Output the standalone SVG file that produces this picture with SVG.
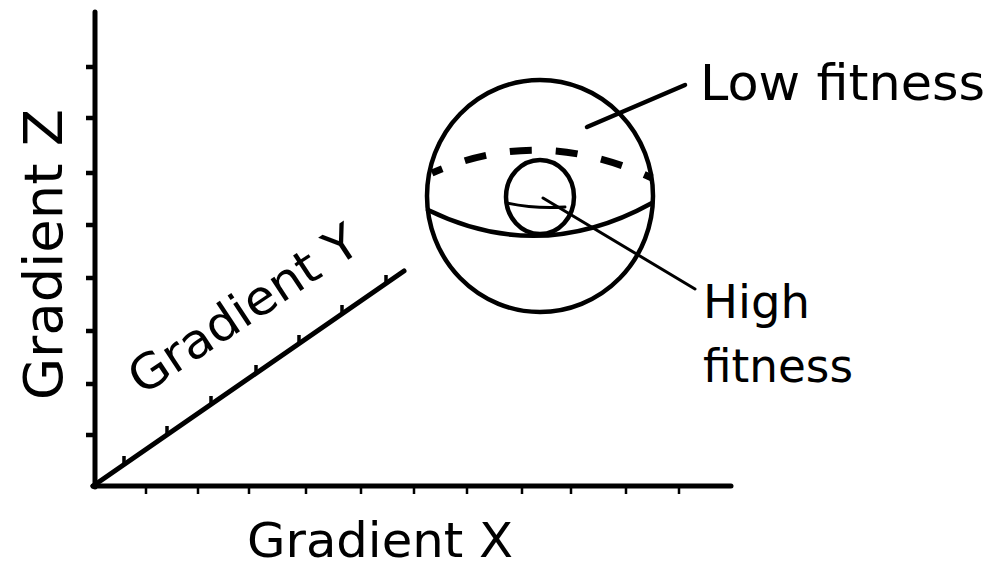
<svg xmlns="http://www.w3.org/2000/svg" width="990" height="567" viewBox="0 0 990 567">
<style>
.ax{stroke:#000;stroke-width:5;fill:none;stroke-linecap:round}
.tk{stroke:#000;stroke-width:4.5;fill:none}
.tkx{stroke:#000;stroke-width:2.5;fill:none}
.tky{stroke:#000;stroke-width:3.5;fill:none}
.ln{stroke:#000;stroke-width:4.5;fill:none;stroke-linecap:round}
.thin{stroke:#000;stroke-width:3;fill:none;stroke-linecap:round}
.dash{stroke:#000;stroke-width:7;fill:none;stroke-dasharray:22 24;stroke-dashoffset:11}
.lbl{font-family:"DejaVu Sans","Liberation Sans",sans-serif;fill:#000}
</style>
<rect width="990" height="567" fill="#fff"/>
<g id="axes">
  <line class="ax" x1="95" y1="12" x2="95" y2="487"/>
  <line class="ax" x1="93" y1="486" x2="731" y2="486"/>
  <line class="ax" x1="93" y1="486" x2="404" y2="271"/>
  <path class="tk" d="M86 67H95M86 118H95M86 173H95M86 225H95M86 278H95M86 331H95M86 384H95M86 435H95"/>
  <path class="tkx" d="M146 486V494M198 486V494M249 486V494M306 486V494M361 486V494M414 486V494M467 486V494M522 486V494M571 486V494M626 486V494M679 486V494"/>
  <path class="tky" d="M124 464.6V456M167 434.8V426M211 404.4V396M256 373.3V365M299 343.6V335M342 313.9V305M386 283.4V275"/>
</g>
<g id="sphere">
  <ellipse class="ln" cx="540" cy="196" rx="113" ry="116"/>
  <path class="dash" d="M432 173Q540 125 652 178"/>
  <path class="ln" d="M428 210Q540 265 652 203"/>
</g>
<g id="core">
  <ellipse class="ln" cx="540" cy="197" rx="34" ry="37"/>
  <path class="thin" d="M507 203Q535 209 565 207"/>
</g>
<g id="connectors">
  <line class="ln" x1="587" y1="127" x2="685" y2="85"/>
  <line class="thin" x1="543" y1="198" x2="695" y2="289"/>
</g>
<g id="labels">
  <text class="lbl" x="700" y="100" font-size="50" textLength="285" lengthAdjust="spacingAndGlyphs">Low fitness</text>
  <text class="lbl" x="703" y="318" font-size="47" textLength="107" lengthAdjust="spacingAndGlyphs">High</text>
  <text class="lbl" x="703" y="382" font-size="47" textLength="150" lengthAdjust="spacingAndGlyphs">fitness</text>
  <text class="lbl" x="247" y="557" font-size="48" textLength="266" lengthAdjust="spacingAndGlyphs">Gradient X</text>
  <text class="lbl" transform="translate(62 400) rotate(-90)" font-size="54" textLength="291" lengthAdjust="spacingAndGlyphs">Gradient Z</text>
  <text class="lbl" transform="translate(142 396) rotate(-33.5)" font-size="48" textLength="265" lengthAdjust="spacingAndGlyphs">Gradient Y</text>
</g>
</svg>
